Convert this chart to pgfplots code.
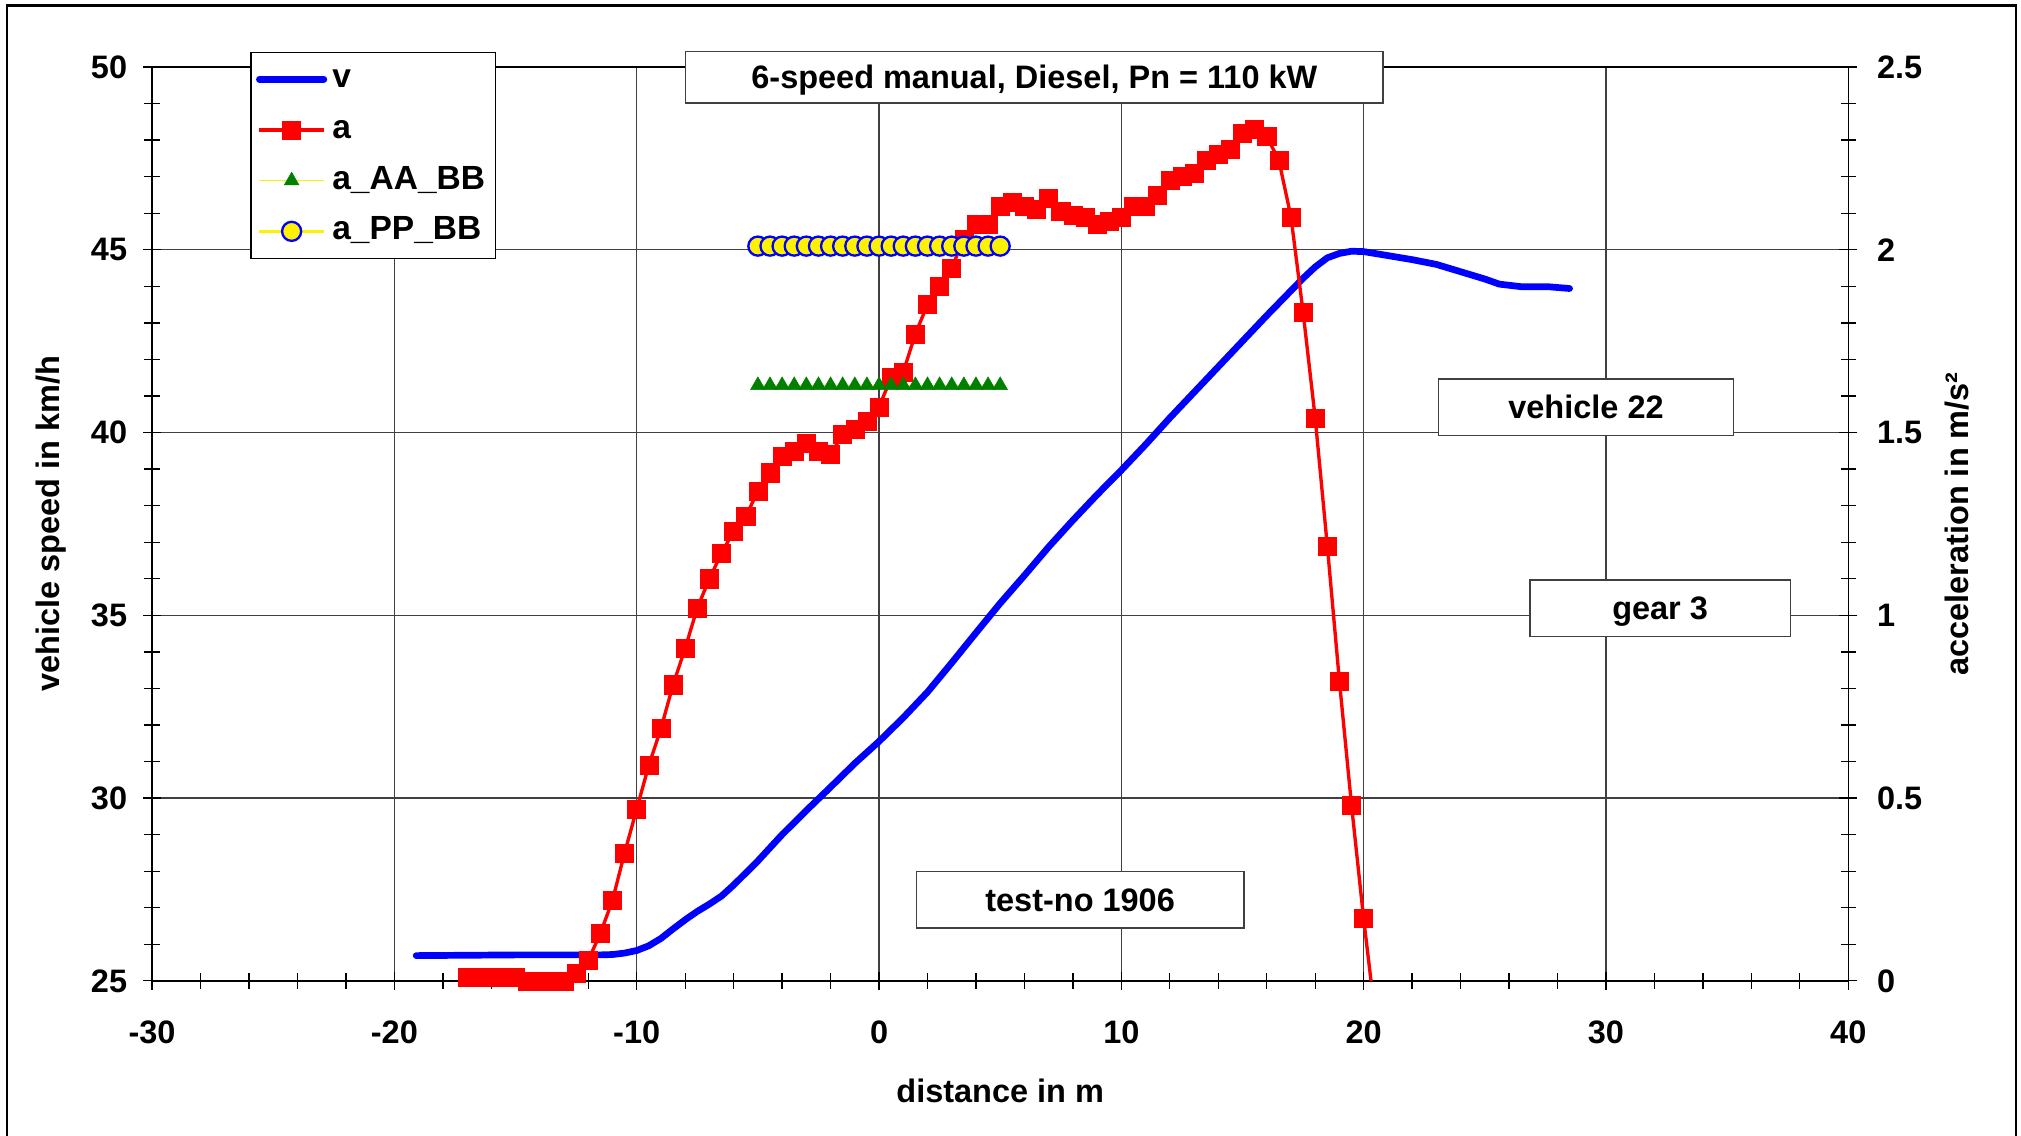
\documentclass[border=0pt]{standalone}
\usepackage{pgfplots}
\pgfplotsset{compat=1.18}
\usepackage{fontspec}
\setmainfont{Liberation Sans}
\definecolor{dgreen}{RGB}{0,128,0}
\newcommand{\tfont}{\fontsize{12.6}{15}\selectfont\bfseries}
\begin{document}
\begin{tikzpicture}[font=\tfont]
\pgfplotsset{
  common/.style={
    scale only axis, width=658pt, height=354.5pt,
    at={(0pt,0pt)}, anchor=south west,
    xmin=-30, xmax=40,
    tick align=center,
    major tick length=7pt, minor tick length=6pt,
    every tick/.style={black, line width=0.5pt},
    axis line style={line width=0.6pt},
    /pgf/number format/assume math mode=true,
    tick label style={font=\tfont, inner sep=0pt},
  }
}
\begin{axis}[common,
  ymin=25, ymax=50,
  xtick={-30,-20,...,40}, ytick={25,30,...,50},
  minor x tick num=4, minor y tick num=4,
  xtick pos=left, ytick pos=left,
  xmajorgrids, ymajorgrids,
  grid style={black!75, line width=0.5pt},
  xticklabel style={anchor=north, yshift=-12pt},
  yticklabel style={anchor=east, xshift=-6pt},
]
\addplot[blue, line width=2.6pt, line cap=round, line join=round, no marks] table {
x v
-19.1 25.69
-17.0 25.70
-15.0 25.71
-13.0 25.71
-11.5 25.71
-11.0 25.72
-10.5 25.76
-10.0 25.83
-9.5 25.96
-9.0 26.16
-8.5 26.42
-8.0 26.67
-7.5 26.90
-7.0 27.10
-6.5 27.32
-6.0 27.62
-5.5 27.95
-5.0 28.28
-4.5 28.64
-4.0 29.00
-3.0 29.66
-2.0 30.30
-1.0 30.95
0.0 31.55
1.0 32.20
2.0 32.90
3.0 33.70
4.0 34.52
5.0 35.33
6.0 36.09
7.0 36.87
8.0 37.60
9.0 38.30
10.0 38.97
11.0 39.67
12.0 40.40
13.0 41.10
14.0 41.80
15.0 42.50
16.0 43.20
17.0 43.88
17.5 44.22
18.0 44.53
18.5 44.78
19.0 44.90
19.5 44.96
20.0 44.95
21.0 44.84
22.0 44.73
23.0 44.60
24.0 44.40
25.0 44.20
25.6 44.06
26.5 43.99
27.6 43.99
28.5 43.94
};
\end{axis}
\begin{axis}[common,
  ymin=0, ymax=2.5,
  axis x line=none, axis y line*=right,
  ytick={0,0.5,...,2.5}, minor y tick num=4,
  yticklabel style={anchor=west, xshift=7.5pt},
  legend style={at={(0.0578,1.0169)}, anchor=north west, draw=black, line width=0.6pt,
    fill=white, font=\fontsize{13}{15}\selectfont\bfseries,
    inner xsep=2pt, inner ysep=2.75pt, row sep=4.15pt,
    nodes={inner sep=2pt, text height=9pt, text depth=2.5pt}},
  legend cell align=left,
  legend image code/.code={\draw[mark repeat=2,mark phase=2,#1] plot coordinates {(0pt,0pt) (12.5pt,0pt) (25pt,0pt)};},
]
\addlegendimage{blue, line width=2.6pt, line cap=round}
\addlegendentry{v}
\addplot[red, line width=1.3pt, mark=square*, mark size=3.5pt,
  mark options={solid, draw=red, fill=red, line width=0.2pt}] table {
x a
-17.0 0.01
-16.5 0.01
-16.0 0.01
-15.5 0.01
-15.0 0.01
-14.5 0.0
-14.0 0.0
-13.5 0.0
-13.0 0.0
-12.5 0.02
-12.0 0.056
-11.5 0.13
-11.0 0.22
-10.5 0.35
-10.0 0.47
-9.5 0.59
-9.0 0.69
-8.5 0.81
-8.0 0.91
-7.5 1.02
-7.0 1.10
-6.5 1.17
-6.0 1.23
-5.5 1.27
-5.0 1.34
-4.5 1.39
-4.0 1.435
-3.5 1.45
-3.0 1.47
-2.5 1.45
-2.0 1.44
-1.5 1.495
-1.0 1.51
-0.5 1.53
0.0 1.57
0.5 1.65
1.0 1.665
1.5 1.77
2.0 1.85
2.5 1.90
3.0 1.95
3.5 2.03
4.0 2.07
4.5 2.07
5.0 2.12
5.5 2.13
6.0 2.12
6.5 2.11
7.0 2.14
7.5 2.105
8.0 2.095
8.5 2.09
9.0 2.07
9.5 2.077
10.0 2.09
10.5 2.12
11.0 2.12
11.5 2.15
12.0 2.19
12.5 2.20
13.0 2.21
13.5 2.245
14.0 2.26
14.5 2.275
15.0 2.32
15.5 2.33
16.0 2.31
16.5 2.245
17.0 2.09
17.5 1.83
18.0 1.54
18.5 1.19
19.0 0.82
19.5 0.48
20.0 0.17
20.5 -0.11
};
\addlegendentry{a}
\addplot[yellow, line width=0.6pt, mark=triangle*, mark size=3.3pt,
  mark options={solid, draw=dgreen, fill=dgreen, line width=0.2pt}] table {
x a
-5.0 1.629
-4.5 1.629
-4.0 1.629
-3.5 1.629
-3.0 1.629
-2.5 1.629
-2.0 1.629
-1.5 1.629
-1.0 1.629
-0.5 1.629
0.0 1.629
0.5 1.629
1.0 1.629
1.5 1.629
2.0 1.629
2.5 1.629
3.0 1.629
3.5 1.629
4.0 1.629
4.5 1.629
5.0 1.629
};
\addlegendentry{a\_AA\_BB}
\addplot[yellow, line width=1.2pt, mark=*, mark size=3.7pt,
  mark options={solid, draw=blue, fill=yellow, line width=0.9pt}] table {
x a
-5.0 2.01
-4.5 2.01
-4.0 2.01
-3.5 2.01
-3.0 2.01
-2.5 2.01
-2.0 2.01
-1.5 2.01
-1.0 2.01
-0.5 2.01
0.0 2.01
0.5 2.01
1.0 2.01
1.5 2.01
2.0 2.01
2.5 2.01
3.0 2.01
3.5 2.01
4.0 2.01
4.5 2.01
5.0 2.01
};
\addlegendentry{a\_PP\_BB}
\end{axis}
% axis titles
\node[anchor=center] at (329pt,-42.5pt) {distance in m};
\node[anchor=center, rotate=90] at (-39pt,177.25pt) {vehicle speed in km/h};
\node[anchor=center, rotate=90] at (700pt,177.25pt) {acceleration in m/s²};
% text boxes
\tikzset{tbox/.style={draw=black!75, line width=0.6pt, fill=white, inner sep=0pt, anchor=center, text height=9pt, text depth=0pt}}
\node[tbox, minimum width=270.5pt, minimum height=20pt] at (342.25pt,350.5pt) {6-speed manual, Diesel, Pn = 110 kW};
\node[tbox, minimum width=114.5pt, minimum height=22pt] at (556.25pt,222.5pt) {vehicle 22};
\node[tbox, minimum width=101pt, minimum height=22pt] at (585pt,144.5pt) {gear 3};
\node[tbox, minimum width=127pt, minimum height=22pt] at (360pt,31.5pt) {test-no 1906};
% outer frame
\draw[line width=1pt] (-56.25pt,-62pt) -- (-56.25pt,378.25pt) -- (723pt,378.25pt) -- (723pt,-62pt);
\pgfresetboundingbox
\path[use as bounding box] (-59pt,-60pt) rectangle (725pt,380.5pt);
\end{tikzpicture}
\end{document}
